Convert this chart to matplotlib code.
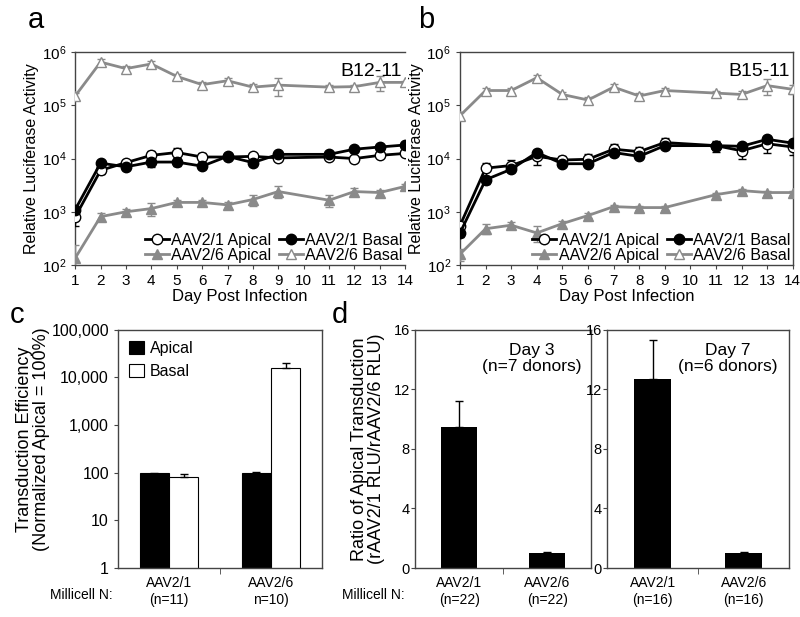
import numpy as np
import matplotlib.pyplot as plt
from matplotlib.ticker import FuncFormatter, FixedLocator, NullFormatter

plt.rcParams['font.family'] = ['Liberation Sans', 'DejaVu Sans']
plt.rcParams['mathtext.fontset'] = 'custom'
plt.rcParams['mathtext.rm'] = 'Liberation Sans'
plt.rcParams['mathtext.it'] = 'Liberation Sans'

GRAY = '#8a8a8a'
SPINE = '#444444'

# ---- data: time course (panels a, b) ----
days = [1, 2, 3, 4, 5, 6, 7, 8, 9, 11, 12, 13, 14]
day_ticks = list(range(1, 15))

# panel a, donor B12-11
a_apical21 = [800, 6000, 8400, 11500, 13000, 10700, 10700, 11000, 10300, 10700, 10000, 11500, 12500]
a_apical21_err = [250, 800, 1200, 2500, 3000, 2000, 1000, 800, 1000, 1000, 800, 1000, 1000]
a_basal21 = [1100, 8200, 7000, 8600, 8600, 7200, 11000, 8400, 12000, 12000, 15000, 16500, 18000]
a_basal21_err = [200, 800, 800, 1800, 1500, 800, 1500, 1200, 1000, 1000, 1500, 1500, 1500]
a_apical26 = [135, 810, 1000, 1150, 1500, 1500, 1350, 1700, 2400, 1650, 2400, 2300, 3000]
a_apical26_err = [100, 150, 120, 300, 200, 150, 150, 400, 600, 400, 400, 300, 300]
a_basal26 = [150000, 650000, 490000, 600000, 350000, 245000, 290000, 220000, 240000, 220000, 225000, 270000, 270000]
a_basal26_err = [20000, 80000, 60000, 90000, 40000, 30000, 30000, 30000, 90000, 20000, 20000, 80000, 20000]

# panel b, donor B15-11
b_apical21 = [550, 6600, 7400, 11000, 9400, 9700, 15000, 13500, 20000, 17500, 14000, 19000, 16500]
b_apical21_err = [100, 1800, 1800, 3500, 2000, 2500, 4000, 3000, 4000, 4000, 4000, 6000, 5000]
b_basal21 = [400, 4000, 6300, 13000, 8000, 8000, 13000, 11000, 17500, 17500, 17000, 23000, 19500]
b_basal21_err = [60, 600, 800, 1500, 800, 800, 1500, 1000, 2000, 3000, 2000, 3000, 3000]
b_apical26 = [160, 480, 560, 400, 600, 850, 1250, 1200, 1200, 2100, 2500, 2300, 2300]
b_apical26_err = [40, 100, 80, 130, 80, 100, 120, 100, 100, 150, 200, 200, 200]
b_basal26 = [64000, 190000, 190000, 330000, 160000, 126000, 220000, 150000, 190000, 170000, 160000, 235000, 200000]
b_basal26_err = [10000, 25000, 20000, 40000, 20000, 20000, 30000, 20000, 20000, 20000, 25000, 80000, 40000]

# ---- data: panel c ----
c_groups = ['AAV2/1\n(n=11)', 'AAV2/6\nn=10)']
c_apical = [98, 98]
c_apical_err = [2, 5]
c_basal = [80, 15700]
c_basal_err = [14, 4300]

# ---- data: panel d ----
d_groups_day3 = ['AAV2/1\n(n=22)', 'AAV2/6\n(n=22)']
d_ratio_day3 = [9.5, 1.0]
d_err_day3 = [1.75, 0.05]
d_groups_day7 = ['AAV2/1\n(n=16)', 'AAV2/6\n(n=16)']
d_ratio_day7 = [12.7, 1.0]
d_err_day7 = [2.6, 0.05]

fig = plt.figure(figsize=(8, 6.17), dpi=100)


def style_spines(ax):
    for s in ax.spines.values():
        s.set_color(SPINE)
        s.set_linewidth(1)


def time_course(ax, ap21, ap21e, ba21, ba21e, ap26, ap26e, ba26, ba26e, tag):
    kw = dict(lw=2, markersize=7.5, capsize=3, elinewidth=1, capthick=1)
    h1 = ax.errorbar(days, ap21, yerr=ap21e, color='black', marker='o',
                     mfc='white', mec='black', ecolor='black', zorder=4, **kw)
    h2 = ax.errorbar(days, ba21, yerr=ba21e, color='black', marker='o',
                     mfc='black', mec='black', ecolor='black', zorder=4, **kw)
    h3 = ax.errorbar(days, ap26, yerr=ap26e, color=GRAY, marker='^',
                     mfc=GRAY, mec=GRAY, ecolor=GRAY, zorder=3, **kw)
    h4 = ax.errorbar(days, ba26, yerr=ba26e, color=GRAY, marker='^',
                     mfc='white', mec=GRAY, ecolor=GRAY, zorder=3, **kw)
    ax.set_yscale('log')
    ax.set_ylim(1e2, 1e6)
    ax.set_xlim(1, 14)
    ax.set_xticks(day_ticks)
    ax.set_yticks([1e2, 1e3, 1e4, 1e5, 1e6])
    ax.set_yticklabels([r'10$^{%d}$' % k for k in range(2, 7)])
    ax.yaxis.set_minor_formatter(NullFormatter())
    ax.tick_params(axis='y', which='minor', length=0)
    ax.tick_params(axis='both', which='major', labelsize=11, length=3,
                   direction='out', color=SPINE)
    ax.set_xlabel('Day Post Infection', fontsize=12, labelpad=1)
    ax.set_ylabel('Relative Luciferase Activity', fontsize=11.5, labelpad=2)
    ax.text(0.99, 0.95, tag, transform=ax.transAxes, ha='right', va='top',
            fontsize=14)
    ax.legend([h1[0], h3[0], h2[0], h4[0]],
              ['AAV2/1 Apical', 'AAV2/6 Apical', 'AAV2/1 Basal', 'AAV2/6 Basal'],
              ncol=2, loc='lower right', frameon=False, fontsize=11.5,
              handlelength=1.5, handletextpad=0.15, columnspacing=0.5,
              labelspacing=0.0, borderaxespad=0.05, borderpad=0.1)
    style_spines(ax)


# panel a (right side cropped in the original)
ax_a = fig.add_axes([0.094, 0.5705, 0.4125, 0.345])
time_course(ax_a, a_apical21, a_apical21_err, a_basal21, a_basal21_err,
            a_apical26, a_apical26_err, a_basal26, a_basal26_err, 'B12-11')
ax_a.spines['right'].set_visible(False)

# panel b
ax_b = fig.add_axes([0.575, 0.5705, 0.416, 0.345])
time_course(ax_b, b_apical21, b_apical21_err, b_basal21, b_basal21_err,
            b_apical26, b_apical26_err, b_basal26, b_basal26_err, 'B15-11')

# panel c
ax_c = fig.add_axes([0.1475, 0.0794, 0.255, 0.386])
x = np.arange(len(c_groups))
w = 0.285
ax_c.bar(x - w / 2, c_apical, w, yerr=c_apical_err, color='black',
         edgecolor='black', lw=0.8, label='Apical',
         error_kw=dict(lw=1, capsize=3, capthick=1, ecolor='black'))
ax_c.bar(x + w / 2, c_basal, w, yerr=[[0, 0], c_basal_err], color='white',
         edgecolor='black', lw=0.8, label='Basal',
         error_kw=dict(lw=1, capsize=3, capthick=1, ecolor='black'))
ax_c.set_yscale('log')
ax_c.set_ylim(1, 1e5)
ax_c.set_xlim(-0.5, 1.5)
ax_c.set_yticks([1, 10, 100, 1000, 10000, 100000])
ax_c.yaxis.set_major_formatter(FuncFormatter(lambda v, p: '{:,.0f}'.format(v)))
ax_c.yaxis.set_minor_formatter(NullFormatter())
ax_c.tick_params(axis='y', which='minor', length=0)
ax_c.tick_params(axis='y', labelsize=11.5, length=3, color=SPINE)
ax_c.set_xticks(x)
ax_c.set_xticklabels(c_groups, fontsize=10)
ax_c.tick_params(axis='x', which='major', length=0, pad=6)
ax_c.xaxis.set_minor_locator(FixedLocator([0.5]))
ax_c.tick_params(axis='x', which='minor', length=4, color=SPINE)
ax_c.set_ylabel('Transduction Efficiency\n(Normalized Apical = 100%)',
                fontsize=13, linespacing=1.0)
ax_c.yaxis.set_label_coords(-0.335, 0.54)
ax_c.legend(loc='upper left', frameon=False, fontsize=11.5, handlelength=0.9,
            handleheight=0.9, handletextpad=0.4, borderaxespad=0.3,
            labelspacing=0.5)
style_spines(ax_c)


def ratio_panel(ax, groups, vals, errs, label):
    xx = np.arange(len(groups))
    ax.bar(xx, vals, 0.41, yerr=[[0] * len(errs), errs], color='black',
           error_kw=dict(lw=1, capsize=3, capthick=1, ecolor='black'))
    ax.set_ylim(0, 16)
    ax.set_xlim(-0.5, 1.5)
    ax.set_yticks([0, 4, 8, 12, 16])
    ax.tick_params(axis='y', labelsize=10.5, length=3, color=SPINE, pad=1)
    ax.set_xticks(xx)
    ax.set_xticklabels(groups, fontsize=10)
    ax.tick_params(axis='x', which='major', length=0, pad=6)
    ax.xaxis.set_minor_locator(FixedLocator([0.5]))
    ax.tick_params(axis='x', which='minor', length=4, color=SPINE)
    ax.text(0.66, 0.88, label, transform=ax.transAxes, ha='center', va='center',
            fontsize=12.5, linespacing=1.1)
    style_spines(ax)


ax_d1 = fig.add_axes([0.519, 0.0794, 0.22, 0.386])
ratio_panel(ax_d1, d_groups_day3, d_ratio_day3, d_err_day3, 'Day 3\n(n=7 donors)')
ax_d1.set_ylabel('Ratio of Apical Transduction\n(rAAV2/1 RLU/rAAV2/6 RLU)',
                 fontsize=13, labelpad=6, linespacing=1.0)

ax_d2 = fig.add_axes([0.759, 0.0794, 0.2275, 0.386])
ratio_panel(ax_d2, d_groups_day7, d_ratio_day7, d_err_day7, 'Day 7\n(n=6 donors)')

# panel letters and row labels
fig.text(0.035, 0.968, 'a', fontsize=21, ha='left', va='center')
fig.text(0.522, 0.968, 'b', fontsize=21, ha='left', va='center')
fig.text(0.012, 0.49, 'c', fontsize=21, ha='left', va='center')
fig.text(0.415, 0.49, 'd', fontsize=21, ha='left', va='center')
fig.text(0.062, 0.036, 'Millicell N:', fontsize=10, ha='left', va='center')
fig.text(0.428, 0.036, 'Millicell N:', fontsize=10, ha='left', va='center')

fig.savefig('out.png', dpi=100)
